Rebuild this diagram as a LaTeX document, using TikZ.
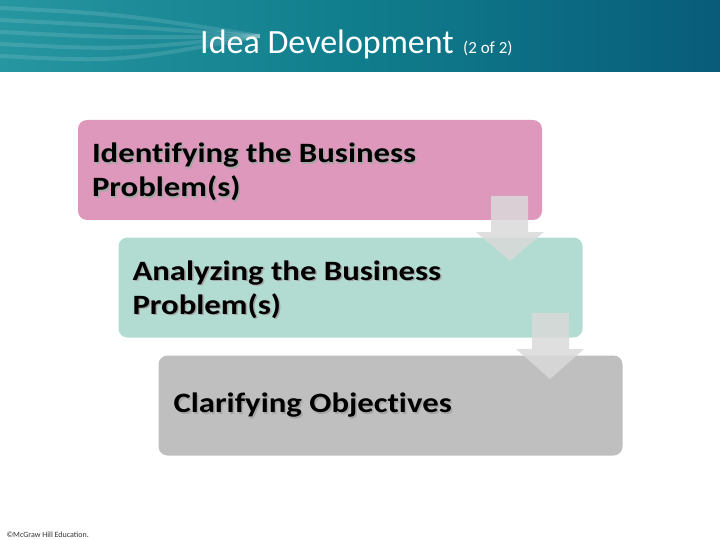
\documentclass[tikz,border=0pt]{standalone}
\usepackage{fontspec}
\setmainfont{Carlito}
\newfontfamily\stepfont[FakeStretch=1.17, Ligatures=NoCommon]{Carlito}
\usetikzlibrary{positioning,calc}
\definecolor{bannerleft}{RGB}{38,150,160}
\definecolor{bannermid}{RGB}{16,125,140}
\definecolor{bannerright}{RGB}{8,92,122}
\definecolor{pinkbox}{RGB}{221,152,188}
\definecolor{mintbox}{RGB}{178,220,209}
\definecolor{graybox}{RGB}{191,191,191}
\definecolor{arrowgray}{RGB}{217,217,217}

\begin{document}
\begin{tikzpicture}[x=1pt, y=-1pt,
  stepbox/.style={rectangle, rounded corners=9pt, minimum width=464pt, minimum height=100pt, inner sep=0pt},
  steptext/.style={anchor=west, align=left, inner sep=0pt, font={\stepfont\fontsize{28}{34}\selectfont\bfseries}},
  stepshadow/.style={steptext, text=black!35},
  blockarrow/.style={fill=arrowgray, fill opacity=0.85, draw=none}]
  \useasboundingbox (0,0) rectangle (720,540);
  % banner
  \shade[left color=bannerleft, right color=bannerright, middle color=bannermid] (0,0) rectangle (720,72);
  \foreach \y in {8,20,32,44,56}
    \draw[white, opacity=0.12, line width=4pt] (0,\y) .. controls (120,\y+6) .. (260,36);
  \node[text=white, font={\fontsize{34}{40}\selectfont}, inner sep=0pt, anchor=base] (title) at (327,54) {Idea Development};
  \node[text=white, font={\fontsize{17}{20}\selectfont}, inner sep=0pt, right=9pt of title.base east, anchor=base west] (part) {(2 of 2)};

  % steps
  \node[stepbox, fill=pinkbox] (identify) at (310,170) {};
  \node[stepbox, fill=mintbox] (analyze) at (350.5,287.5) {};
  \node[stepbox, fill=graybox] (clarify) at (390.5,405.5) {};
  \node[stepshadow] (identifys) at ($(identify.west)+(15.5,3.5)$) {Identifying the Business\\Problem(s)};
  \node[steptext] (identifyt) at ($(identify.west)+(14,2)$) {Identifying the Business\\Problem(s)};
  \node[stepshadow] (analyzes) at ($(analyze.west)+(15.5,3.5)$) {Analyzing the Business\\Problem(s)};
  \node[steptext] (analyzet) at ($(analyze.west)+(14,2)$) {Analyzing the Business\\Problem(s)};
  \node[stepshadow] (clarifys) at ($(clarify.west)+(16.5,1.5)$) {Clarifying Objectives};
  \node[steptext] (clarifyt) at ($(clarify.west)+(15,0)$) {Clarifying Objectives};

  % block arrows
  \fill[blockarrow] (491,196) -- (528,196) -- (528,232) -- (544,232) -- (510,261) -- (476,232) -- (491,232) -- cycle;
  \fill[blockarrow] (532,313) -- (569,313) -- (569,349) -- (584,349) -- (550,379) -- (516,349) -- (532,349) -- cycle;

  \node[anchor=west, font={\fontsize{8}{9}\selectfont}, text=black!80] (copy) at (3,535) {\textcopyright McGraw Hill Education.};
\end{tikzpicture}
\end{document}
